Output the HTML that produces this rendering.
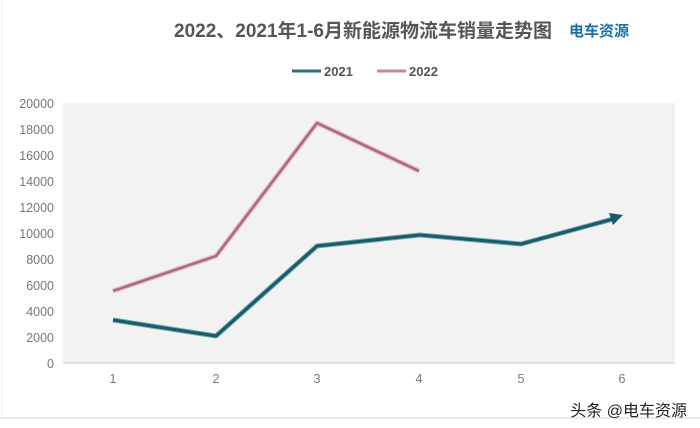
<!DOCTYPE html>
<html><head><meta charset="utf-8"><style>
html,body{margin:0;padding:0;background:#fff;width:700px;height:428px;overflow:hidden}
</style></head><body>
<svg width="700" height="428" xmlns="http://www.w3.org/2000/svg" font-family="'Liberation Sans','Noto Sans CJK SC',sans-serif">
<rect x="0" y="0" width="700" height="428" fill="#fff"/>
<line x1="0" y1="418" x2="700" y2="418" stroke="#e4e4e4" stroke-width="1.5"/>
<line x1="2" y1="0" x2="2" y2="418" stroke="#eee" stroke-width="1"/>
<text x="174" y="37" font-size="19" font-weight="bold" fill="#555">2022、2021年1-6月新能源物流车销量走势图</text>
<text x="569" y="36" font-size="15" font-weight="bold" fill="#1a6fa8">电车资源</text>
<line x1="292" y1="71" x2="321" y2="71" stroke="#2b6f80" stroke-width="3"/>
<text x="324" y="76" font-size="13" font-weight="bold" fill="#555">2021</text>
<line x1="377" y1="71" x2="406" y2="71" stroke="#c08a9c" stroke-width="3"/>
<text x="409" y="76" font-size="13" font-weight="bold" fill="#555">2022</text>
<rect x="63" y="103" width="612" height="260" fill="#f2f2f2"/>
<line x1="63" y1="363" x2="675" y2="363" stroke="#d8d8d8" stroke-width="1.5"/>
<g font-size="12.5" fill="#777" text-anchor="end">
<text x="54" y="108">20000</text><text x="54" y="134">18000</text><text x="54" y="160">16000</text>
<text x="54" y="186">14000</text><text x="54" y="212">12000</text><text x="54" y="238">10000</text>
<text x="54" y="264">8000</text><text x="54" y="290">6000</text><text x="54" y="316">4000</text>
<text x="54" y="342">2000</text><text x="54" y="368">0</text>
</g>
<g font-size="12.5" fill="#777" text-anchor="middle">
<text x="113" y="383">1</text><text x="216" y="383">2</text><text x="317" y="383">3</text>
<text x="419" y="383">4</text><text x="521" y="383">5</text><text x="622" y="383">6</text>
</g>
<polyline points="113,291 216,256 317,123 419,171" fill="none" stroke="#e8bcc8" stroke-width="5" stroke-linejoin="round"/>
<polyline points="113,291 216,256 317,123 419,171" fill="none" stroke="#a86a80" stroke-width="2.5" stroke-linejoin="round"/>
<polyline points="113,320 216,336 317,246 420,235 521,244 613,219" fill="none" stroke="#6aa8b4" stroke-width="5" stroke-linejoin="round"/>
<polyline points="113,320 216,336 317,246 420,235 521,244 613,219" fill="none" stroke="#1d5a68" stroke-width="3" stroke-linejoin="round"/>
<polygon points="623,215 609,213 613,225" fill="#1d5a68"/>
<text x="687" y="416" font-size="16" fill="#222" text-anchor="end">头条 @电车资源</text>
</svg>
</body></html>
